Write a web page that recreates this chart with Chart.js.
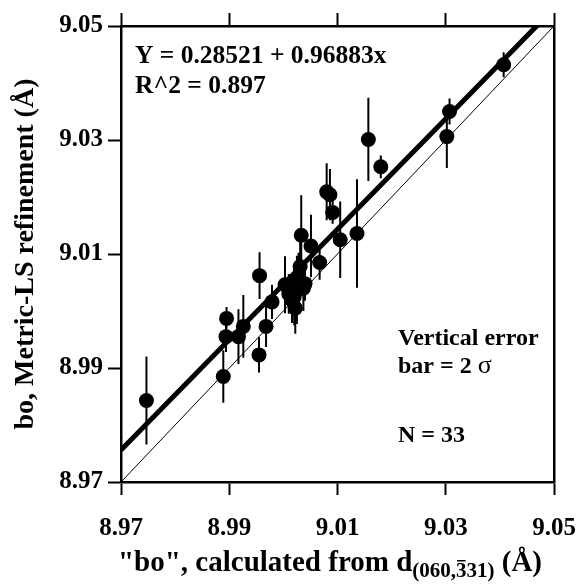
<!DOCTYPE html>
<html>
<head>
<meta charset="utf-8">
<script src="https://cdn.jsdelivr.net/npm/chart.js@4"></script>
<style>
  body { margin: 0; background: #fff; }
  canvas { display: block; }
</style>
</head>
<body>
<canvas id="myChart" width="576" height="585"></canvas>
<script>
// calculated bo (x) vs refined bo (y), with 2 sigma vertical error
const calcB = [8.9747, 8.9889, 8.9955, 8.9894, 8.9895, 8.9917, 8.9926, 8.9968, 8.9979, 8.9956,
  9.0003, 9.0016, 9.0025, 9.0022, 9.0037, 9.0031, 9.0028, 9.0010, 9.0020, 9.0040,
  9.0033, 9.0051, 9.0067, 9.0105, 9.0080, 9.0086, 9.0091, 9.0136, 9.0157, 9.0180,
  9.0302, 9.0307, 9.0407];
const refinedB = [8.9843, 8.9885, 8.9923, 8.9955, 8.9987, 8.9955, 8.9973, 8.9973, 9.0016, 9.0062,
  9.0046, 9.0019, 9.0037, 9.0005, 9.0040, 9.0078, 9.0057, 9.0030, 9.0025, 9.0048,
  9.0133, 9.0114, 9.0085, 9.0125, 9.0209, 9.0204, 9.0173, 9.0136, 9.0301, 9.0253,
  9.0306, 9.0350, 9.0432];
const errB = [0.0077, 0.0046, 0.0031, 0.0027, 0.0020, 0.0048, 0.0055, 0.0036, 0.0030, 0.0041,
  0.0050, 0.0040, 0.0060, 0.0045, 0.0040, 0.0055, 0.0045, 0.0035, 0.0050, 0.0030,
  0.0070, 0.0055, 0.0030, 0.0067, 0.0050, 0.0045, 0.0020, 0.0095, 0.0073, 0.0020,
  0.0055, 0.0023, 0.0022];

// regression line and 1:1 line
const fitX = [8.97, 9.05];
const fitY = [8.9756, 9.0531];
const oneX = [8.97, 9.05];
const oneY = [8.97, 9.05];

const tickVals = [8.97, 8.99, 9.01, 9.03, 9.05];

const serif = '"Liberation Serif", "Times New Roman", serif';

const pts = calcB.map((x, i) => ({ x: x, y: refinedB[i] }));
const bars = [];
calcB.forEach((x, i) => {
  bars.push({ x: x, y: refinedB[i] - errB[i] });
  bars.push({ x: x, y: refinedB[i] + errB[i] });
  bars.push({ x: x, y: null });
});

const setTicks = s => { s.ticks = tickVals.map(v => ({ value: v })); };

const textPlugin = {
  id: 'texts',
  afterDraw(chart) {
    const ctx = chart.ctx;
    ctx.save();
    ctx.fillStyle = '#000';
    ctx.textBaseline = 'alphabetic';
    ctx.textAlign = 'left';
    ctx.font = 'bold 25.5px ' + serif;
    ctx.fillText('Y = 0.28521 + 0.96883x', 135, 63);
    ctx.fillText('R^2 = 0.897', 135, 93);

    ctx.font = 'bold 24px ' + serif;
    ctx.fillText('Vertical error', 398, 345);
    const b = 'bar = 2 ';
    ctx.fillText(b, 398, 373);
    const bw = ctx.measureText(b).width;
    ctx.font = '26px ' + serif;
    ctx.fillText('σ', 398 + bw, 373);
    ctx.font = 'bold 24px ' + serif;
    ctx.fillText('N = 33', 398, 442);

    // x axis title with subscript
    let x = 118;
    const base = 571;
    ctx.font = 'bold 29px ' + serif;
    const t1 = '"bo", calculated from d';
    ctx.fillText(t1, x, base);
    x += ctx.measureText(t1).width;
    ctx.font = 'bold 21px ' + serif;
    const s1 = '(060,';
    ctx.fillText(s1, x, base + 6);
    x += ctx.measureText(s1).width;
    const w3 = ctx.measureText('3').width;
    ctx.fillText('3', x, base + 6);
    ctx.fillRect(x + 1, base + 6 - 17, w3 - 2, 1.5);
    x += w3;
    const s2 = '31)';
    ctx.fillText(s2, x, base + 6);
    x += ctx.measureText(s2).width;
    ctx.font = 'bold 29px ' + serif;
    ctx.fillText(' (Å)', x, base);
    ctx.restore();
  }
};

const axisGrid = { drawOnChartArea: false, tickLength: 13, tickWidth: 2, color: '#000' };
const axisBorder = { color: '#000', width: 2.5 };
const tickFont = { family: serif, size: 25, weight: 'bold' };

const config = {
  type: 'scatter',
  data: {
    datasets: [
      { data: bars, showLine: true, spanGaps: false, pointRadius: 0, borderColor: '#000', borderWidth: 2 },
      { data: pts, pointRadius: 7.5, pointHoverRadius: 7.5, backgroundColor: '#000', borderWidth: 0 },
      { data: fitX.map((x, i) => ({ x: x, y: fitY[i] })), showLine: true, pointRadius: 0, borderColor: '#000', borderWidth: 5 },
      { data: oneX.map((x, i) => ({ x: x, y: oneY[i] })), showLine: true, pointRadius: 0, borderColor: '#000', borderWidth: 1 }
    ]
  },
  options: {
    responsive: false,
    animation: false,
    layout: { padding: 0 },
    plugins: { legend: { display: false }, tooltip: { enabled: false } },
    scales: {
      x: {
        type: 'linear', position: 'bottom', min: 8.97, max: 9.05,
        afterBuildTicks: setTicks,
        afterFit: s => { s.height = 103; s.paddingLeft = 0; s.paddingRight = 0; },
        ticks: { font: tickFont, color: '#000', padding: 19, maxRotation: 0, callback: v => v.toFixed(2) },
        grid: axisGrid, border: axisBorder
      },
      x2: {
        type: 'linear', position: 'top', min: 8.97, max: 9.05,
        afterBuildTicks: setTicks,
        afterFit: s => { s.height = 26; s.paddingLeft = 0; s.paddingRight = 0; },
        ticks: { display: false },
        grid: axisGrid, border: axisBorder
      },
      y: {
        type: 'linear', position: 'left', min: 8.97, max: 9.05,
        afterBuildTicks: setTicks,
        afterFit: s => { s.width = 121; s.paddingTop = 0; s.paddingBottom = 0; },
        ticks: { font: tickFont, color: '#000', padding: 5, callback: v => v.toFixed(2) },
        grid: axisGrid, border: axisBorder,
        title: { display: true, text: 'bo, Metric-LS refinement (Å)', color: '#000', font: { family: serif, size: 28, weight: 'bold' }, padding: { top: 9, bottom: 0 } }
      },
      y2: {
        type: 'linear', position: 'right', min: 8.97, max: 9.05,
        afterFit: s => { s.width = 22; s.paddingTop = 0; s.paddingBottom = 0; },
        ticks: { display: false },
        grid: { display: true, drawOnChartArea: false, drawTicks: false, color: '#000' },
        border: axisBorder
      }
    }
  },
  plugins: [textPlugin]
};

const myChart = new Chart(document.getElementById('myChart'), config);
</script>
</body>
</html>
